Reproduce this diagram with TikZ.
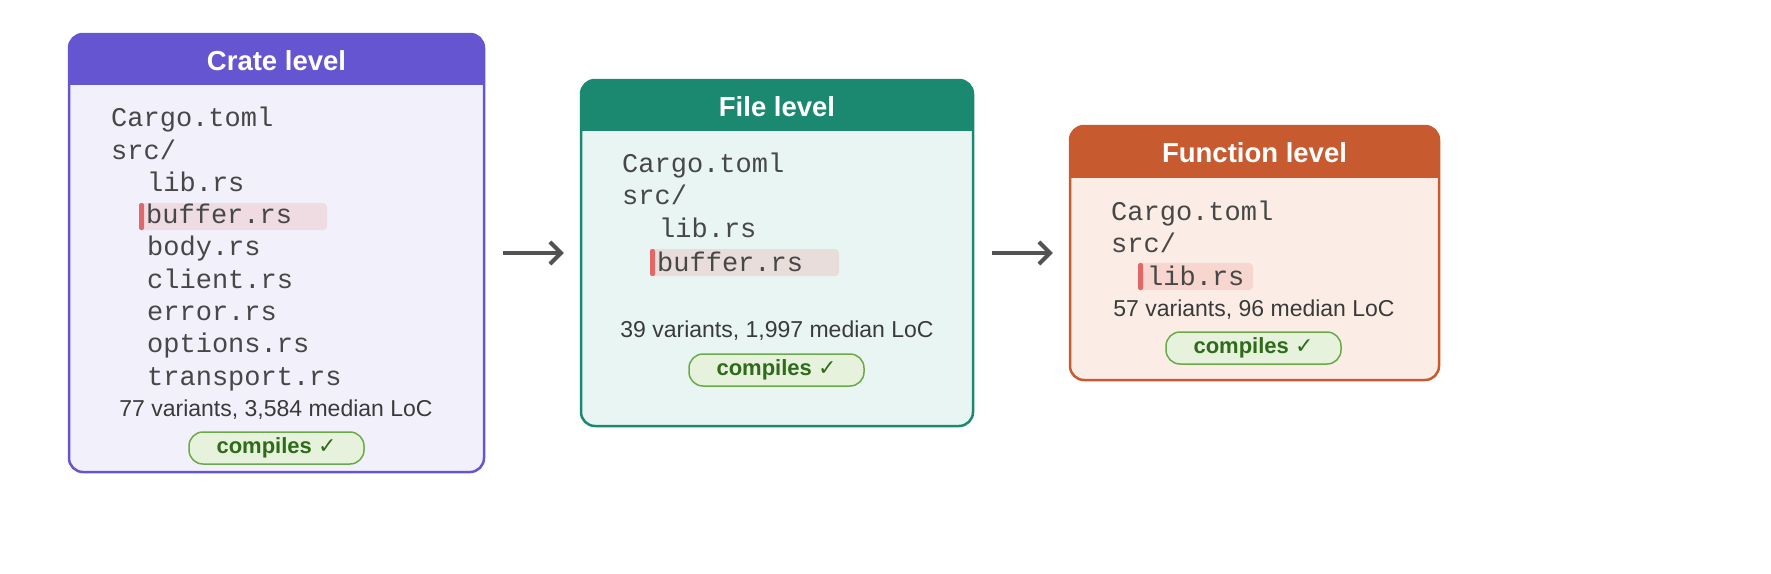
\documentclass[tikz,border=0pt]{standalone}
\usepackage{fontspec}
\setmainfont{Liberation Sans}
\setmonofont{Liberation Mono}
\newfontfamily\symf{DejaVu Sans}
\usetikzlibrary{arrows.meta}
\definecolor{pur}{HTML}{6655D0}\definecolor{purbg}{HTML}{F2F0FB}
\definecolor{tea}{HTML}{1B8870}\definecolor{teabg}{HTML}{E8F5F2}
\definecolor{ora}{HTML}{C85A30}\definecolor{orabg}{HTML}{FBEDE5}
\definecolor{txt}{HTML}{3A3A3A}\definecolor{bar}{HTML}{E06868}
\definecolor{hla}{HTML}{EFDBE2}\definecolor{hlb}{HTML}{E8DDDA}\definecolor{hlc}{HTML}{F6D6CF}
\definecolor{okbg}{HTML}{E6F2DC}\definecolor{okbd}{HTML}{6AAA48}\definecolor{oktx}{HTML}{2E6B1A}
\tikzset{
 file/.style={anchor=west,inner sep=0,text height=21,text depth=3,font=\fontsize{27}{27}\ttfamily,text=black!72},
 stat/.style={inner sep=0,text height=17,text depth=5,font=\fontsize{23}{23}\selectfont,text=txt},
 title/.style={inner sep=0,font=\fontsize{27.5}{27.5}\bfseries,text=white},
 badge/.style={draw=okbd,line width=1.5pt,fill=okbg,rounded corners=14,minimum width=175,minimum height=32,inner sep=0,font=\fontsize{22}{22}\bfseries,text=oktx},
 hl/.style={rounded corners=4},
 arr/.style={draw=black!68,line width=4pt,-{Straight Barb[length=11pt,width=22pt,line width=4pt]}},
}
\newcommand{\chk}{{\symf\bfseries ✓}}
\begin{document}
\begin{tikzpicture}[x=1pt,y=-1pt]
\useasboundingbox (0,0) rectangle (1771,573);
\foreach \xa/\ya/\xb/\yb/\yh/\c/\bg in {69/34/484/472/85/pur/purbg,581/80/973/426/131/tea/teabg,1070/126/1439/380/178/ora/orabg}{
 \begin{scope}
 \clip[rounded corners=14] (\xa,\ya) rectangle (\xb,\yb);
 \fill[\bg] (\xa,\ya) rectangle (\xb,\yb);
 \fill[\c] (\xa,\ya) rectangle (\xb,\yh);
 \end{scope}
 \draw[\c,line width=2.5pt,rounded corners=14] (\xa,\ya) rectangle (\xb,\yb);
}
\node[minimum width=415,minimum height=438,inner sep=0] (crate) at (276.5,253) {};
\node[minimum width=392,minimum height=346,inner sep=0] (filebox) at (777,253) {};
\node[minimum width=369,minimum height=254,inner sep=0] (func) at (1254.5,253) {};
\node[title] (t1) at (276.5,61) {Crate level};
\node[title] (t2) at (777,107) {File level};
\node[title] (t3) at (1254.5,153) {Function level};
% crate
\fill[hl,fill=hla] (139,203) rectangle (327,230);
\fill[bar,rounded corners=2] (139,203) rectangle (144,230);
\node[file] (c1) at (111,117) {Cargo.toml};
\node[file] (c2) at (111,150) {src/};
\node[file] (c3) at (147,182) {lib.rs};
\node[file] (c4) at (146,214) {buffer.rs};
\node[file] (c5) at (147,246) {body.rs};
\node[file] (c6) at (147,279) {client.rs};
\node[file] (c7) at (147,311) {error.rs};
\node[file] (c8) at (147,343) {options.rs};
\node[file] (c9) at (147,376) {transport.rs};
\node[stat] (cs) at (276,410) {77 variants, 3,584 median LoC};
\node[badge] (cb) at (276.5,448) {compiles \chk};
% file
\fill[hl,fill=hlb] (650,249) rectangle (839,276);
\fill[bar,rounded corners=2] (650,249) rectangle (655,276);
\node[file] (f1) at (622,163) {Cargo.toml};
\node[file] (f2) at (622,195) {src/};
\node[file] (f3) at (659,228) {lib.rs};
\node[file] (f4) at (657,262) {buffer.rs};
\node[stat] (fs) at (777,331) {39 variants, 1,997 median LoC};
\node[badge] (fb) at (776.5,370) {compiles \chk};
% function
\fill[hl,fill=hlc] (1138,263) rectangle (1253,290);
\fill[bar,rounded corners=2] (1138,263) rectangle (1143,290);
\node[file] (g1) at (1111,211) {Cargo.toml};
\node[file] (g2) at (1111,243) {src/};
\node[file] (g3) at (1147,276) {lib.rs};
\node[stat] (gs) at (1254,310) {57 variants, 96 median LoC};
\node[badge] (gb) at (1253.5,348) {compiles \chk};
\draw[arr,shorten <=19,shorten >=17] (crate.east) -- (filebox.west);
\draw[arr,shorten <=19,shorten >=17] (filebox.east) -- (func.west);
\end{tikzpicture}
\end{document}
